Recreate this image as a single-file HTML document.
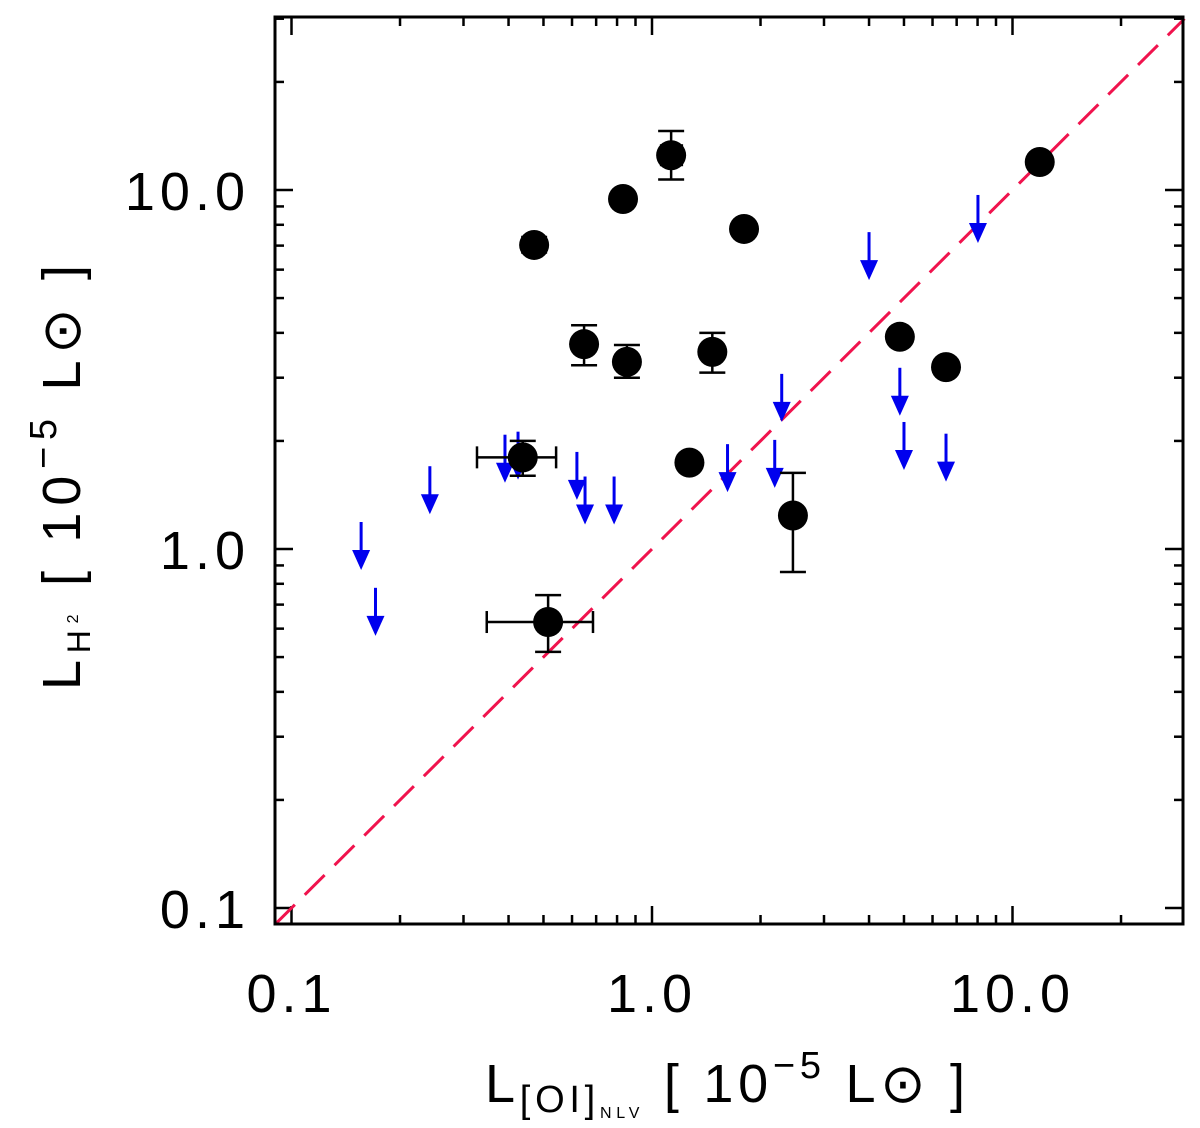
<!DOCTYPE html>
<html><head><meta charset="utf-8"><style>
html,body{margin:0;padding:0;background:#fff;}
svg{display:block;font-family:"Liberation Sans","DejaVu Sans",sans-serif;}
</style></head><body>
<svg id="chart" width="1200" height="1128" viewBox="0 0 1200 1128" xmlns="http://www.w3.org/2000/svg">
<g id="ticks"></g>
<line id="diag" stroke="#f0134d" stroke-width="3" stroke-dasharray="28,14"/>
<g id="marks"></g>
<rect x="275" y="17" width="908" height="907" fill="none" stroke="#000" stroke-width="3"/>
<g id="labels" font-size="54" fill="#000"></g>
<text x="485" y="1102" font-size="54" fill="#000" textLength="480" lengthAdjust="spacing">L<tspan font-size="38" dy="10">[OI]</tspan><tspan font-size="16" dy="6">NLV</tspan><tspan dy="-16"> [ 10</tspan><tspan font-size="38" dy="-24">−5</tspan><tspan dy="24"> L⊙ ]</tspan></text>
<text transform="translate(80,690) rotate(-90)" font-size="54" fill="#000" textLength="425" lengthAdjust="spacing">L<tspan font-size="32" dy="10">H</tspan><tspan font-size="16" dy="-12">2</tspan><tspan dy="2">  [ 10</tspan><tspan font-size="38" dy="-24">−5</tspan><tspan dy="24"> L⊙ ]</tspan></text>
</svg>
<script>
const pointX = [0.471,0.831,1.13,1.80,11.9,0.648,0.852,1.47,4.87,6.54,0.438,1.27,2.46,0.515];
const pointY = [7.03,9.44,12.5,7.79,11.97,3.72,3.32,3.54,3.9,3.21,1.80,1.74,1.24,0.626];
const xErrLo = [0.45,0.831,1.06,1.80,11.9,0.648,0.82,1.40,4.87,6.54,0.327,1.21,2.46,0.348];
const xErrHi = [0.49,0.831,1.21,1.80,11.9,0.648,0.89,1.55,4.87,6.54,0.542,1.34,2.46,0.686];
const yErrLo = [6.7,9.44,10.7,7.79,11.97,3.25,3.0,3.1,3.9,3.21,1.6,1.74,0.863,0.517];
const yErrHi = [7.4,9.44,14.6,7.79,11.97,4.2,3.7,4.0,3.9,3.21,2.0,1.74,1.63,0.744];
const limX = [0.156,0.171,0.242,0.391,0.425,0.619,0.652,0.785,1.62,2.19,2.29,4.0,4.87,5.0,6.54,8.02];
const limY = [0.874,0.573,1.25,1.53,1.56,1.37,1.17,1.17,1.44,1.48,2.26,5.61,2.35,1.66,1.54,7.12];
const tickVals = [0.1,1,10];
const tickLabels = ["0.1","1.0","10.0"];

const NS="http://www.w3.org/2000/svg";
const X=v=>652+360.5*Math.log10(v);
const Y=v=>549-359*Math.log10(v);
const L=275,R=1183,T=17,B=924;
function mk(tag,attrs,parent){const e=document.createElementNS(NS,tag);for(const k in attrs)e.setAttribute(k,attrs[k]);parent.appendChild(e);return e;}
const tk=document.getElementById('ticks');
for(let d=-2;d<=1;d++){for(let m=1;m<=9;m++){const v=m*Math.pow(10,d);const len=m==1?18:9;
 const x=X(v);if(x>L&&x<R){
  let t=mk('line',{x1:x,x2:x,y1:B,y2:B-len,stroke:'#000','stroke-width':2.5},tk);
  
  
  t=mk('line',{x1:x,x2:x,y1:T,y2:T+len,stroke:'#000','stroke-width':2.5},tk);
  
  }
 const y=Y(v);if(y>T&&y<B){
  let t=mk('line',{x1:L,x2:L+len,y1:y,y2:y,stroke:'#000','stroke-width':2.5},tk);
  
  
  t=mk('line',{x1:R,x2:R-len,y1:y,y2:y,stroke:'#000','stroke-width':2.5},tk);
  
  }
}}
const lb=document.getElementById('labels');
tickVals.forEach((v,i)=>{
 let t=mk('text',{x:X(v),y:1012,'text-anchor':'middle','letter-spacing':5},lb);t.textContent=tickLabels[i];
 
 
 t=mk('text',{x:250,y:Y(v)+20,'text-anchor':'end','letter-spacing':5},lb);t.textContent=tickLabels[i];
 
 
});
const dg=document.getElementById('diag');
const vmin=Math.pow(10,(L-652)/360.5), vmax=30;
dg.setAttribute('x1',X(vmin));dg.setAttribute('y1',Y(vmin));
dg.setAttribute('x2',X(vmax));dg.setAttribute('y2',Y(vmax));
const mg=document.getElementById('marks');
limX.forEach((v,i)=>{
 const x=X(v),ty=Y(limY[i]);
 const g=mk('g',{},mg);
 
 
 mk('line',{x1:x,x2:x,y1:ty-48,y2:ty-14,stroke:'#0000ee','stroke-width':3},g);
 mk('polygon',{points:`${x-9},${ty-20} ${x+9},${ty-20} ${x},${ty}`,fill:'#0000ee'},g);
});
pointX.forEach((v,i)=>{
 const x=X(v),y=Y(pointY[i]);
 const g=mk('g',{},mg);
 
 
 const xl=X(xErrLo[i]),xh=X(xErrHi[i]),yl=Y(yErrLo[i]),yh=Y(yErrHi[i]);
 const s={stroke:'#000','stroke-width':2.5};
 if(xh-xl>2){mk('line',Object.assign({x1:xl,x2:xh,y1:y,y2:y},s),g);
  mk('line',Object.assign({x1:xl,x2:xl,y1:y-11,y2:y+11},s),g);
  mk('line',Object.assign({x1:xh,x2:xh,y1:y-11,y2:y+11},s),g);}
 if(yl-yh>2){mk('line',Object.assign({x1:x,x2:x,y1:yl,y2:yh},s),g);
  mk('line',Object.assign({x1:x-13,x2:x+13,y1:yl,y2:yl},s),g);
  mk('line',Object.assign({x1:x-13,x2:x+13,y1:yh,y2:yh},s),g);}
 mk('circle',{cx:x,cy:y,r:15,fill:'#000'},g);
});
</script>
</body></html>
